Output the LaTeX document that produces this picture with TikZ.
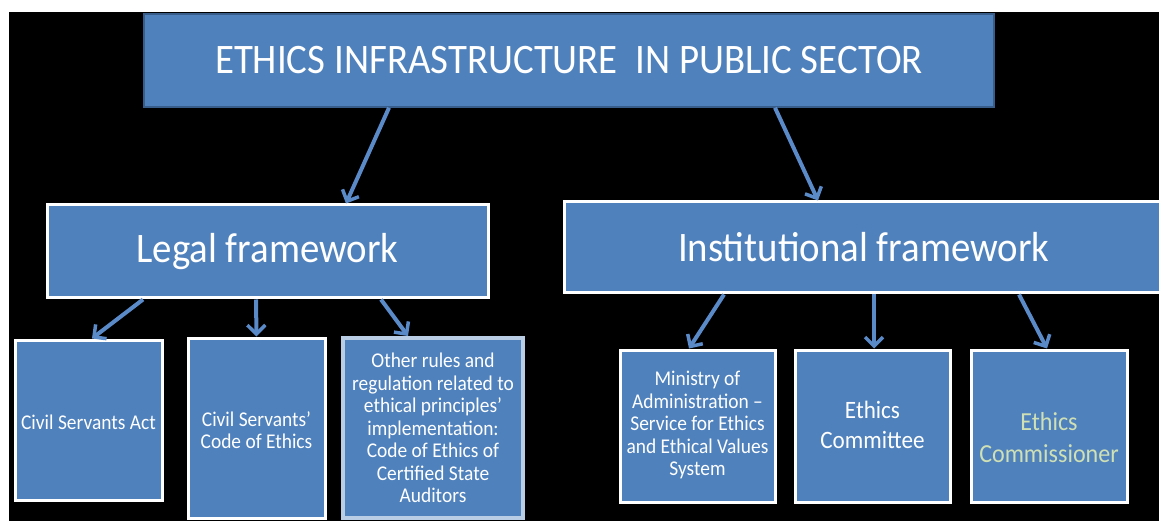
\documentclass[tikz,border=0pt]{standalone}
\usepackage{fontspec}
\setmainfont{Carlito}[FakeStretch=0.925]
\usetikzlibrary{arrows.meta}
\definecolor{boxblue}{HTML}{4F81BD}
\definecolor{arrblue}{HTML}{5A8AC8}
\definecolor{edgeblue}{HTML}{385D8A}
\definecolor{lightedge}{HTML}{B9CDE5}
\definecolor{palegreen}{HTML}{CFE0B5}
\tikzset{
  bigbox/.style={draw=white, line width=3pt, fill=boxblue, text=white, inner sep=0pt, font=\fontsize{42}{44}\selectfont},
  smallbox/.style={draw=white, line width=3pt, fill=boxblue, text=white, inner sep=0pt, align=center},
  smalltxt/.style={text=white, align=center, inner sep=0pt, font=\fontsize{21}{22.5}\selectfont},
  midtxt/.style={text=white, align=center, inner sep=0pt, font=\fontsize{25}{30}\selectfont},
  arr/.style={draw=arrblue, line width=4pt, -{Straight Barb[length=9pt,width=18pt,line width=3.5pt]}}
}
\begin{document}
\begin{tikzpicture}[x=1pt,y=-1pt]
\useasboundingbox (0,0) rectangle (1159,521);
\fill[white] (0,0) rectangle (1159,521);
\fill[black] (9,12) rectangle (1159,521);
\begin{scope}
\clip (9,12) rectangle (1159,521);
\node[draw=edgeblue, line width=1.5pt, fill=boxblue, text=white, inner sep=0pt, minimum width=850pt, minimum height=93pt, font=\fontsize{42}{44}\selectfont] (title) at (569,60.5) {ETHICS INFRASTRUCTURE\ \ IN PUBLIC SECTOR};
\node[bigbox, minimum width=441pt, minimum height=93pt] (legal) at (267.5,251.5) {Legal framework};
\node[bigbox, minimum width=611pt, minimum height=91pt] (inst) at (869.5,247.5) {\makebox[611pt][l]{\hspace*{114pt}Institutional framework}};
\node[smallbox, minimum width=147pt, minimum height=160pt] (b1) at (88.5,420) {};
\node[smallbox, minimum width=137pt, minimum height=180pt] (b2) at (256.5,428) {};
\node[smallbox, draw=lightedge, line width=4pt, minimum width=180pt, minimum height=180pt] (b3) at (433,428) {};
\node[smallbox, minimum width=155pt, minimum height=152pt] (m) at (697.5,426) {};
\node[smallbox, minimum width=155pt, minimum height=152pt] (c) at (872.5,426) {};
\node[smallbox, minimum width=156pt, minimum height=152pt] (k) at (1049,426) {};
\end{scope}
\node[smalltxt] (b1t) at ([yshift=-2pt]b1.center) {Civil Servants Act};
\node[smalltxt] (b2t) at ([yshift=-2pt]b2.center) {Civil Servants’\\Code of Ethics};
\node[smalltxt] (b3t) at (b3.center) {Other rules and\\regulation related to\\ethical principles’\\implementation:\\Code of Ethics of\\Certified State\\Auditors};
\node[smalltxt] (mt) at ([yshift=1pt]m.center) {Ministry of\\Administration –\\Service for Ethics\\and Ethical Values\\System};
\node[midtxt] (ct) at ([yshift=1pt]c.center) {Ethics\\Committee};
\node[midtxt, text=palegreen, font=\fontsize{26}{32}\selectfont] (kt) at ([yshift=-12pt]k.center) {Ethics\\Commissioner};
\draw[arr] ([xshift=-180pt]title.south) -- ([xshift=78.5pt]legal.north);
\draw[arr] ([xshift=206pt]title.south) -- ([xshift=-51.5pt]inst.north);
\draw[arr] ([xshift=-124.5pt]legal.south) -- ([xshift=3.5pt]b1.north);
\draw[arr] ([xshift=-11.5pt]legal.south) -- ([xshift=0pt]b2.north);
\draw[arr] ([xshift=113.5pt]legal.south) -- ([xshift=-25pt]b3.north);
\draw[arr] ([xshift=-145.5pt]inst.south) -- ([xshift=-8.5pt]m.north);
\draw[arr] ([xshift=4.5pt]inst.south) -- ([xshift=1.5pt]c.north);
\draw[arr] ([xshift=149.5pt]inst.south) -- ([xshift=-2pt]k.north);
\end{tikzpicture}
\end{document}
